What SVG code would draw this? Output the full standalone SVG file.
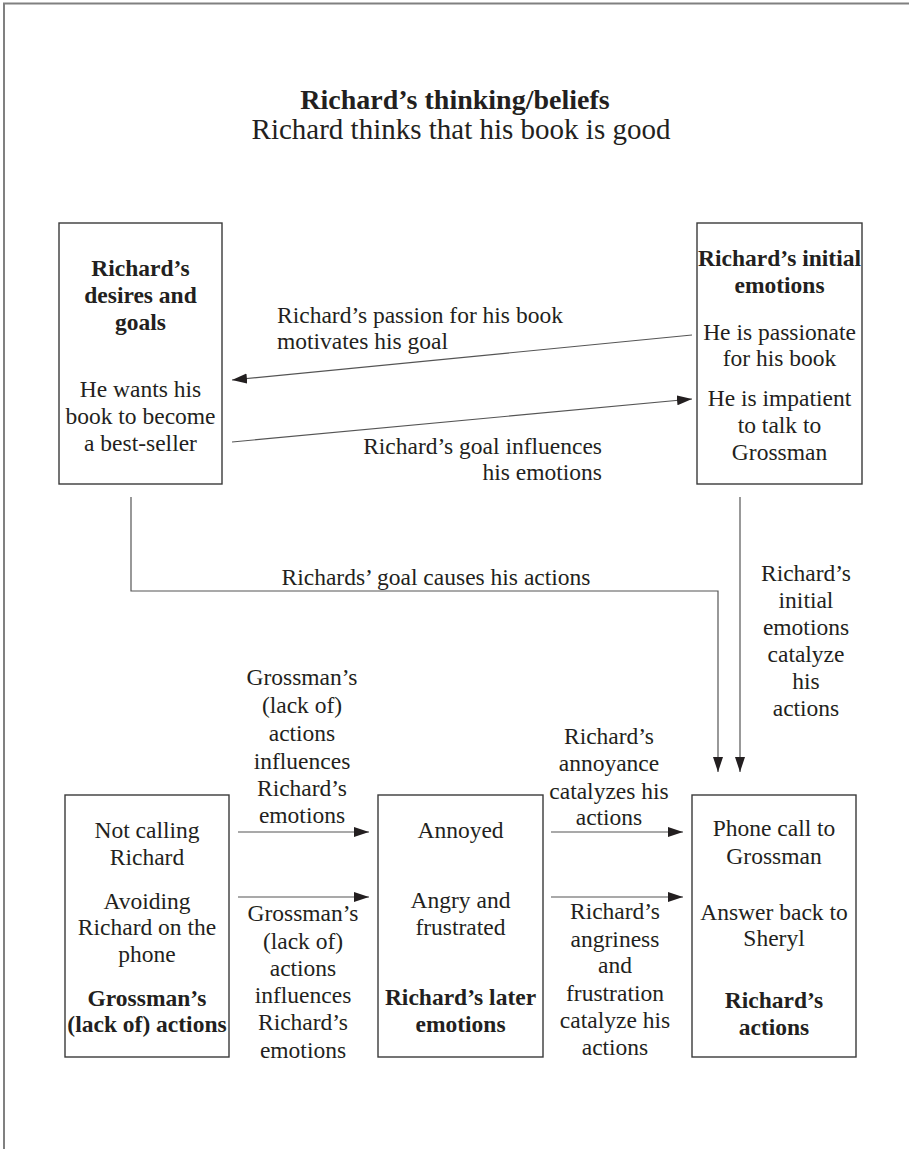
<svg xmlns="http://www.w3.org/2000/svg" width="909" height="1149" viewBox="0 0 909 1149">
<defs>
<marker id="ah" markerUnits="userSpaceOnUse" markerWidth="16" markerHeight="12" refX="15" refY="5" orient="auto">
<path d="M0,0 L15,5 L0,10 z" fill="#231f20"/>
</marker>
<style>
text{font-family:"Liberation Serif","Times New Roman",serif;fill:#231f20;text-anchor:middle}
.t{font-size:28px}
.s{font-size:29px}
.b{font-weight:bold}
.n{font-size:23.5px}
.box{fill:#fff;stroke:#3a3a3a;stroke-width:1.4}
.ca{fill:none;stroke:#555;stroke-width:1.2;marker-end:url(#ah)}
</style>
</defs>
<rect width="909" height="1149" fill="#fff"/>
<path d="M4,1149 V3.5 H909" fill="none" stroke="#808080" stroke-width="2"/>

<g id="title">
<text class="t b" x="455" y="109">Richard’s thinking/beliefs</text>
<text class="s" x="461" y="139">Richard thinks that his book is good</text>
</g>

<g id="desires">
<rect class="box" x="59" y="223" width="163" height="261"/>
<text class="n b" x="140.5" y="276">Richard’s</text>
<text class="n b" x="140.5" y="303">desires and</text>
<text class="n b" x="140.5" y="330">goals</text>
<text class="n" x="140.5" y="397">He wants his</text>
<text class="n" x="140.5" y="424">book to become</text>
<text class="n" x="140.5" y="451">a best-seller</text>
</g>

<g id="initial-emotions">
<rect class="box" x="697" y="223" width="165" height="261"/>
<text class="n b" x="779.5" y="266">Richard’s initial</text>
<text class="n b" x="779.5" y="293">emotions</text>
<text class="n" x="779.5" y="340">He is passionate</text>
<text class="n" x="779.5" y="366">for his book</text>
<text class="n" x="779.5" y="406">He is impatient</text>
<text class="n" x="779.5" y="433">to talk to</text>
<text class="n" x="779.5" y="460">Grossman</text>
</g>

<g id="grossman-actions">
<rect class="box" x="65" y="795" width="164" height="262"/>
<text class="n" x="147" y="838">Not calling</text>
<text class="n" x="147" y="865">Richard</text>
<text class="n" x="147" y="909">Avoiding</text>
<text class="n" x="147" y="935">Richard on the</text>
<text class="n" x="147" y="962">phone</text>
<text class="n b" x="147" y="1006">Grossman’s</text>
<text class="n b" x="147" y="1032">(lack of) actions</text>
</g>

<g id="later-emotions">
<rect class="box" x="378" y="795" width="165" height="262"/>
<text class="n" x="460.5" y="838">Annoyed</text>
<text class="n" x="460.5" y="908">Angry and</text>
<text class="n" x="460.5" y="935">frustrated</text>
<text class="n b" x="460.5" y="1005">Richard’s later</text>
<text class="n b" x="460.5" y="1032">emotions</text>
</g>

<g id="richard-actions">
<rect class="box" x="692" y="795" width="164" height="262"/>
<text class="n" x="774" y="836">Phone call to</text>
<text class="n" x="774" y="864">Grossman</text>
<text class="n" x="774" y="920">Answer back to</text>
<text class="n" x="774" y="946">Sheryl</text>
<text class="n b" x="774" y="1008">Richard’s</text>
<text class="n b" x="774" y="1035">actions</text>
</g>

<g id="connectors">
<line class="ca" x1="692" y1="335" x2="232" y2="380"/>
<line class="ca" x1="232" y1="442" x2="692" y2="399"/>
<polyline class="ca" points="131,497 131,591 718,591 718,772"/>
<line class="ca" x1="740" y1="497" x2="740" y2="772"/>
<line class="ca" x1="238" y1="832" x2="369" y2="832"/>
<line class="ca" x1="238" y1="897" x2="369" y2="897"/>
<line class="ca" x1="551" y1="832" x2="683" y2="832"/>
<line class="ca" x1="551" y1="897" x2="683" y2="897"/>
</g>

<g id="connector-labels">
<text class="n" x="277" y="323" style="text-anchor:start">Richard’s passion for his book</text>
<text class="n" x="277" y="349" style="text-anchor:start">motivates his goal</text>
<text class="n" x="602" y="454" style="text-anchor:end">Richard’s goal influences</text>
<text class="n" x="602" y="480" style="text-anchor:end">his emotions</text>
<text class="n" x="436" y="585">Richards’ goal causes his actions</text>
<text class="n" x="806" y="581">Richard’s</text>
<text class="n" x="806" y="608">initial</text>
<text class="n" x="806" y="635">emotions</text>
<text class="n" x="806" y="662">catalyze</text>
<text class="n" x="806" y="689">his</text>
<text class="n" x="806" y="716">actions</text>
<text class="n" x="302" y="685">Grossman’s</text>
<text class="n" x="302" y="713">(lack of)</text>
<text class="n" x="302" y="741">actions</text>
<text class="n" x="302" y="769">influences</text>
<text class="n" x="302" y="796">Richard’s</text>
<text class="n" x="302" y="823">emotions</text>
<text class="n" x="303" y="921">Grossman’s</text>
<text class="n" x="303" y="949">(lack of)</text>
<text class="n" x="303" y="976">actions</text>
<text class="n" x="303" y="1003">influences</text>
<text class="n" x="303" y="1030">Richard’s</text>
<text class="n" x="303" y="1058">emotions</text>
<text class="n" x="609" y="744">Richard’s</text>
<text class="n" x="609" y="771">annoyance</text>
<text class="n" x="609" y="799">catalyzes his</text>
<text class="n" x="609" y="825">actions</text>
<text class="n" x="615" y="919">Richard’s</text>
<text class="n" x="615" y="947">angriness</text>
<text class="n" x="615" y="973">and</text>
<text class="n" x="615" y="1001">frustration</text>
<text class="n" x="615" y="1028">catalyze his</text>
<text class="n" x="615" y="1055">actions</text>
</g>
</svg>
